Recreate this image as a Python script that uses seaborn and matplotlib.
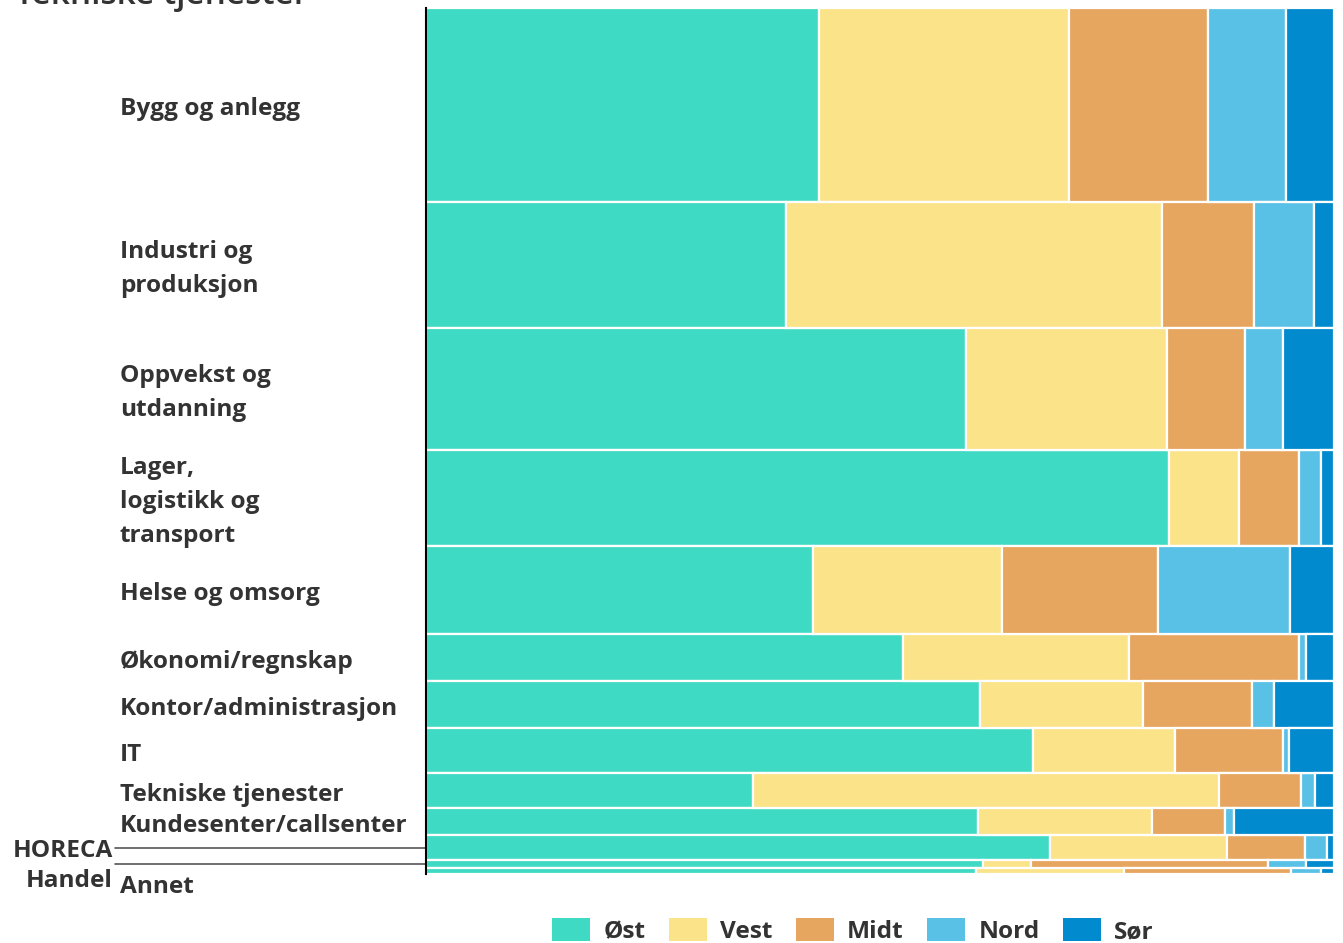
import numpy as np
import seaborn as sns
import matplotlib.pyplot as plt
import matplotlib.transforms as mtrans
from matplotlib.patches import Patch

# Bransjer (rader) og andel av totalen (radhøyde, %)
bransjer = ["Bygg og anlegg", "Industri og\nproduksjon", "Oppvekst og\nutdanning",
            "Lager,\nlogistikk og\ntransport", "Helse og omsorg", "Økonomi/regnskap",
            "Kontor/administrasjon", "IT", "Tekniske tjenester", "Kundesenter/callsenter",
            "HORECA", "Handel", "Annet"]
andel_bransje = [22.4, 14.5, 14.1, 11.1, 10.1, 5.5, 5.4, 5.2, 4.0, 3.2, 2.8, 0.9, 0.75]

# Fordeling på region innen hver bransje (%)
regioner = ["Øst", "Vest", "Midt", "Nord", "Sør"]
ost = [43.3, 39.6, 59.3, 81.7, 42.6, 52.5, 61.0, 66.9, 36.0, 60.8, 68.6, 61.3, 60.5]
vest = [27.5, 41.4, 22.1, 7.8, 20.8, 24.9, 18.0, 15.7, 51.3, 19.2, 19.5, 5.3, 16.2]
midt = [15.3, 10.1, 8.6, 6.6, 17.1, 18.7, 12.0, 11.9, 9.0, 8.0, 8.6, 26.1, 18.4]
nord = [8.6, 6.6, 4.2, 2.4, 14.6, 0.8, 2.4, 0.6, 1.5, 1.0, 2.4, 4.2, 3.3]
sor = [5.3, 2.2, 5.6, 1.4, 4.8, 3.1, 6.6, 5.0, 2.1, 11.0, 0.8, 3.1, 1.4]
farger = ["#3FDAC3", "#FBE38A", "#E6A65F", "#5AC1E6", "#018ACE"]

sns.set_theme(style="white")
plt.rcParams['font.family'] = ['Open Sans', 'DejaVu Sans']
tekst_farge = "#333333"
fs = 17.6

fig = plt.figure(figsize=(13.43, 9.43), dpi=100)
ax = fig.add_axes([426 / 1343, 1 - 874 / 943, 908 / 1343, 866 / 943])

hoyde = np.array(andel_bransje)
bunn = np.concatenate([[0], np.cumsum(hoyde)[:-1]])
senter = bunn + hoyde / 2

serier = np.array([ost, vest, midt, nord, sor])
serier = serier / serier.sum(axis=0) * 100
venstre = np.zeros(len(bransjer))
for navn, verdier, farge in zip(regioner, serier, farger):
    ax.barh(senter, verdier, height=hoyde, left=venstre, color=farge,
            edgecolor="white", linewidth=1.6)
    venstre += verdier

ax.set_xlim(0, 100)
ax.set_ylim(hoyde.sum(), 0)
ax.set_xticks([])
ax.set_yticks([])
for s in ["top", "right", "bottom"]:
    ax.spines[s].set_visible(False)
ax.spines["left"].set_color("black")
ax.spines["left"].set_linewidth(1.5)

# Etiketter
trans = mtrans.blended_transform_factory(fig.transFigure, ax.transData)
x_tekst = 120 / 1343
for i, navn in enumerate(bransjer):
    if navn in ("HORECA", "Handel", "Annet"):
        continue
    ax.text(x_tekst, senter[i] + 0.5, navn, transform=trans, ha="left", va="center",
            fontsize=fs, fontweight="bold", color=tekst_farge, linespacing=1.55)

x_linje0 = 115 / 1343
x_linje1 = 426 / 1343
for navn, dy in [("HORECA", 0.4), ("Handel", 2.0)]:
    i = bransjer.index(navn)
    ax.plot([x_linje0, x_linje1], [senter[i], senter[i]], transform=trans,
            color="#555555", linewidth=1.2, clip_on=False)
    ax.text(113 / 1343, senter[i] + dy, navn, transform=trans, ha="right", va="center",
            fontsize=fs, fontweight="bold", color=tekst_farge)
i = bransjer.index("Annet")
ax.text(x_tekst, senter[i] + 1.9, "Annet", transform=trans, ha="left", va="center",
        fontsize=fs, fontweight="bold", color=tekst_farge)

# Avkuttet tittel øverst
fig.text(15 / 1343, 1 + 4 / 943, "Tekniske tjenester", ha="left", va="center",
         fontsize=24, fontweight="semibold", color=tekst_farge)

handles = [Patch(facecolor=f, edgecolor="none") for f in farger]
fig.legend(handles, regioner, loc="center", bbox_to_anchor=(853 / 1343, 1 - 931 / 943),
           ncol=5, frameon=False, handlelength=1.55, handleheight=1.1,
           handletextpad=0.55, columnspacing=0.95,
           prop={"size": fs, "weight": "bold"}, labelcolor=tekst_farge)

fig.savefig("out.png", dpi=100)
